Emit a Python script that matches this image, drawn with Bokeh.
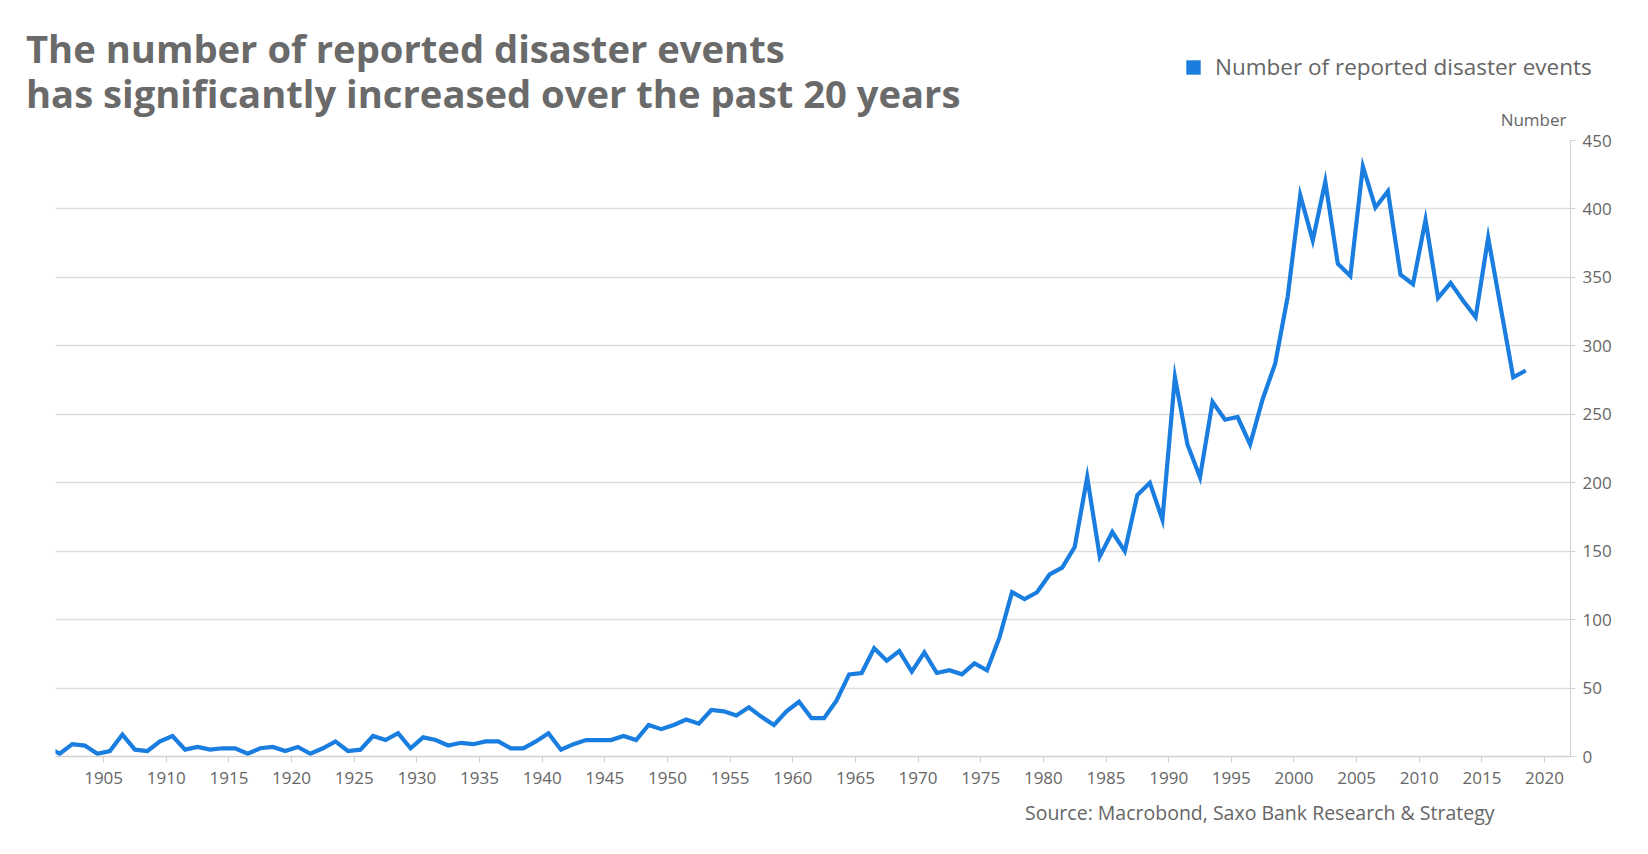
from bokeh.plotting import figure
from bokeh.layouts import column
from bokeh.models import (Range1d, FixedTicker, Label, Legend, LegendItem,
                          ColumnDataSource)
from bokeh.embed import file_html
from bokeh.resources import INLINE

# ---- data -------------------------------------------------------------
years = list(range(1900, 2019))
events = [
    7, 2, 9, 8, 2, 4, 16, 5, 4, 11,            # 1900-1909
    15, 5, 7, 5, 6, 6, 2, 6, 7, 4,             # 1910-1919
    7, 2, 6, 11, 4, 5, 15, 12, 17, 6,          # 1920-1929
    14, 12, 8, 10, 9, 11, 11, 6, 6, 11,        # 1930-1939
    17, 5, 9, 12, 12, 12, 15, 12, 23, 20,      # 1940-1949
    23, 27, 24, 34, 33, 30, 36, 29, 23, 33,    # 1950-1959
    40, 28, 28, 41, 60, 61, 79, 70, 77, 62,    # 1960-1969
    76, 61, 63, 60, 68, 63, 87, 120, 115, 120, # 1970-1979
    133, 138, 153, 204, 146, 164, 150, 191, 200, 173,  # 1980-1989
    277, 228, 204, 259, 246, 248, 228, 261, 287, 336,  # 1990-1999
    410, 377, 420, 360, 351, 431, 401, 413, 352, 345,  # 2000-2009
    392, 335, 346, 333, 321, 379, 328, 277, 282,       # 2010-2018
]
x_ticks = list(range(1905, 2021, 5))
y_ticks = [0, 50, 100, 150, 200, 250, 300, 350, 400, 450]
grid_ticks = [50, 100, 150, 200, 250, 300, 350, 400]

title_lines = ["The number of reported disaster events",
               "has significantly increased over the past 20 years"]
series_name = "Number of reported disaster events"
y_unit = "Number"
source_text = "Source: Macrobond, Saxo Bank Research & Strategy"

# ---- style ------------------------------------------------------------
BLUE = "#1a7de0"
GREY_TXT = "#666666"
TITLE_CLR = "#6a6a6a"
FONT = "Open Sans"
LEFT, FW, RIGHT = 55, 1515, 70
LBL_DX = 55   # observed screen offset of Label annotations in the full-width panels


def blank(height):
    f = figure(frame_width=LEFT + FW + RIGHT, frame_height=height, min_border=0,
               x_range=Range1d(0, 1), y_range=Range1d(0, 1),
               x_axis_type=None, y_axis_type=None,
               output_backend="svg", toolbar_location=None)
    f.outline_line_color = None
    f.xgrid.visible = False
    f.ygrid.visible = False
    return f


# ---- header: title, legend, unit ---------------------------------------
head = blank(130)
ghost = head.quad(left=[5], right=[6], top=[6], bottom=[5],
                  fill_alpha=0, line_alpha=0)
for i, t in enumerate(title_lines):
    head.add_layout(Legend(items=[LegendItem(label=t, renderers=[ghost])],
                           location=(26, 56 - 45 * i), orientation="horizontal",
                           glyph_width=0, glyph_height=10, label_standoff=0,
                           label_text_font=FONT, label_text_font_style="bold",
                           label_text_font_size="38.2px", label_text_color=TITLE_CLR,
                           padding=0, margin=0, spacing=0,
                           border_line_color=None, background_fill_alpha=0))

head.add_layout(Label(x=1566 - LBL_DX, y=11, x_units="screen", y_units="screen",
                      text=y_unit, text_font=FONT, text_font_size="17px",
                      text_color=GREY_TXT, text_align="right", text_baseline="middle"))
proxy = head.quad(left=[5], right=[6], top=[6], bottom=[5], fill_color=BLUE, line_color=None)
leg = Legend(items=[LegendItem(label=series_name, renderers=[proxy])],
             location=(1184, 48), orientation="horizontal",
             glyph_width=18, glyph_height=18, label_standoff=13,
             label_text_font=FONT, label_text_font_size="22.5px",
             label_text_color=GREY_TXT, padding=0, margin=0, spacing=0,
             border_line_color=None, background_fill_alpha=0)
head.add_layout(leg)

# ---- main chart --------------------------------------------------------
xs = [y + 0.5 for y in years]
src = ColumnDataSource(dict(x=xs, y=events))

p = figure(frame_width=FW, frame_height=616,
           min_border_left=LEFT, min_border_right=RIGHT,
           min_border_top=10, min_border_bottom=40,
           x_range=Range1d(1901.16, 2022.07), y_range=Range1d(0, 450),
           output_backend="svg", toolbar_location=None,
           x_axis_location="below", y_axis_location="right")
p.outline_line_color = None

p.line("x", "y", source=src, line_color=BLUE, line_width=4.2, line_join="miter")

xa = p.xaxis[0]
xa.ticker = FixedTicker(ticks=x_ticks)
xa.axis_line_color = "#d0d0d0"
xa.axis_line_width = 1.5
xa.major_tick_line_color = "#d0d0d0"
xa.major_tick_out = 6
xa.major_tick_in = 0
xa.minor_tick_line_color = None
xa.major_label_text_font = FONT
xa.major_label_text_font_size = "17px"
xa.major_label_text_color = GREY_TXT
xa.major_label_standoff = 9

ya = p.yaxis[0]
ya.ticker = FixedTicker(ticks=y_ticks)
ya.axis_line_color = "#d0d0d0"
ya.major_tick_line_color = "#d0d0d0"
ya.major_tick_out = 5
ya.major_tick_in = 0
ya.minor_tick_line_color = None
ya.major_label_text_font = FONT
ya.major_label_text_font_size = "17px"
ya.major_label_text_color = GREY_TXT
ya.major_label_standoff = 7

p.xgrid.grid_line_color = None
p.ygrid.ticker = FixedTicker(ticks=grid_ticks)
p.ygrid.grid_line_color = "#dedede"
p.ygrid.grid_line_width = 1.5

# ---- footer: source ----------------------------------------------------
foot = blank(44)
foot.add_layout(Label(x=1494 - LBL_DX, y=28, x_units="screen", y_units="screen",
                      text=source_text, text_font=FONT, text_font_size="19.5px",
                      text_color=GREY_TXT, text_align="right", text_baseline="middle"))

layout = column(head, p, foot, spacing=0)
open("out.html", "w").write(file_html(layout, INLINE))
